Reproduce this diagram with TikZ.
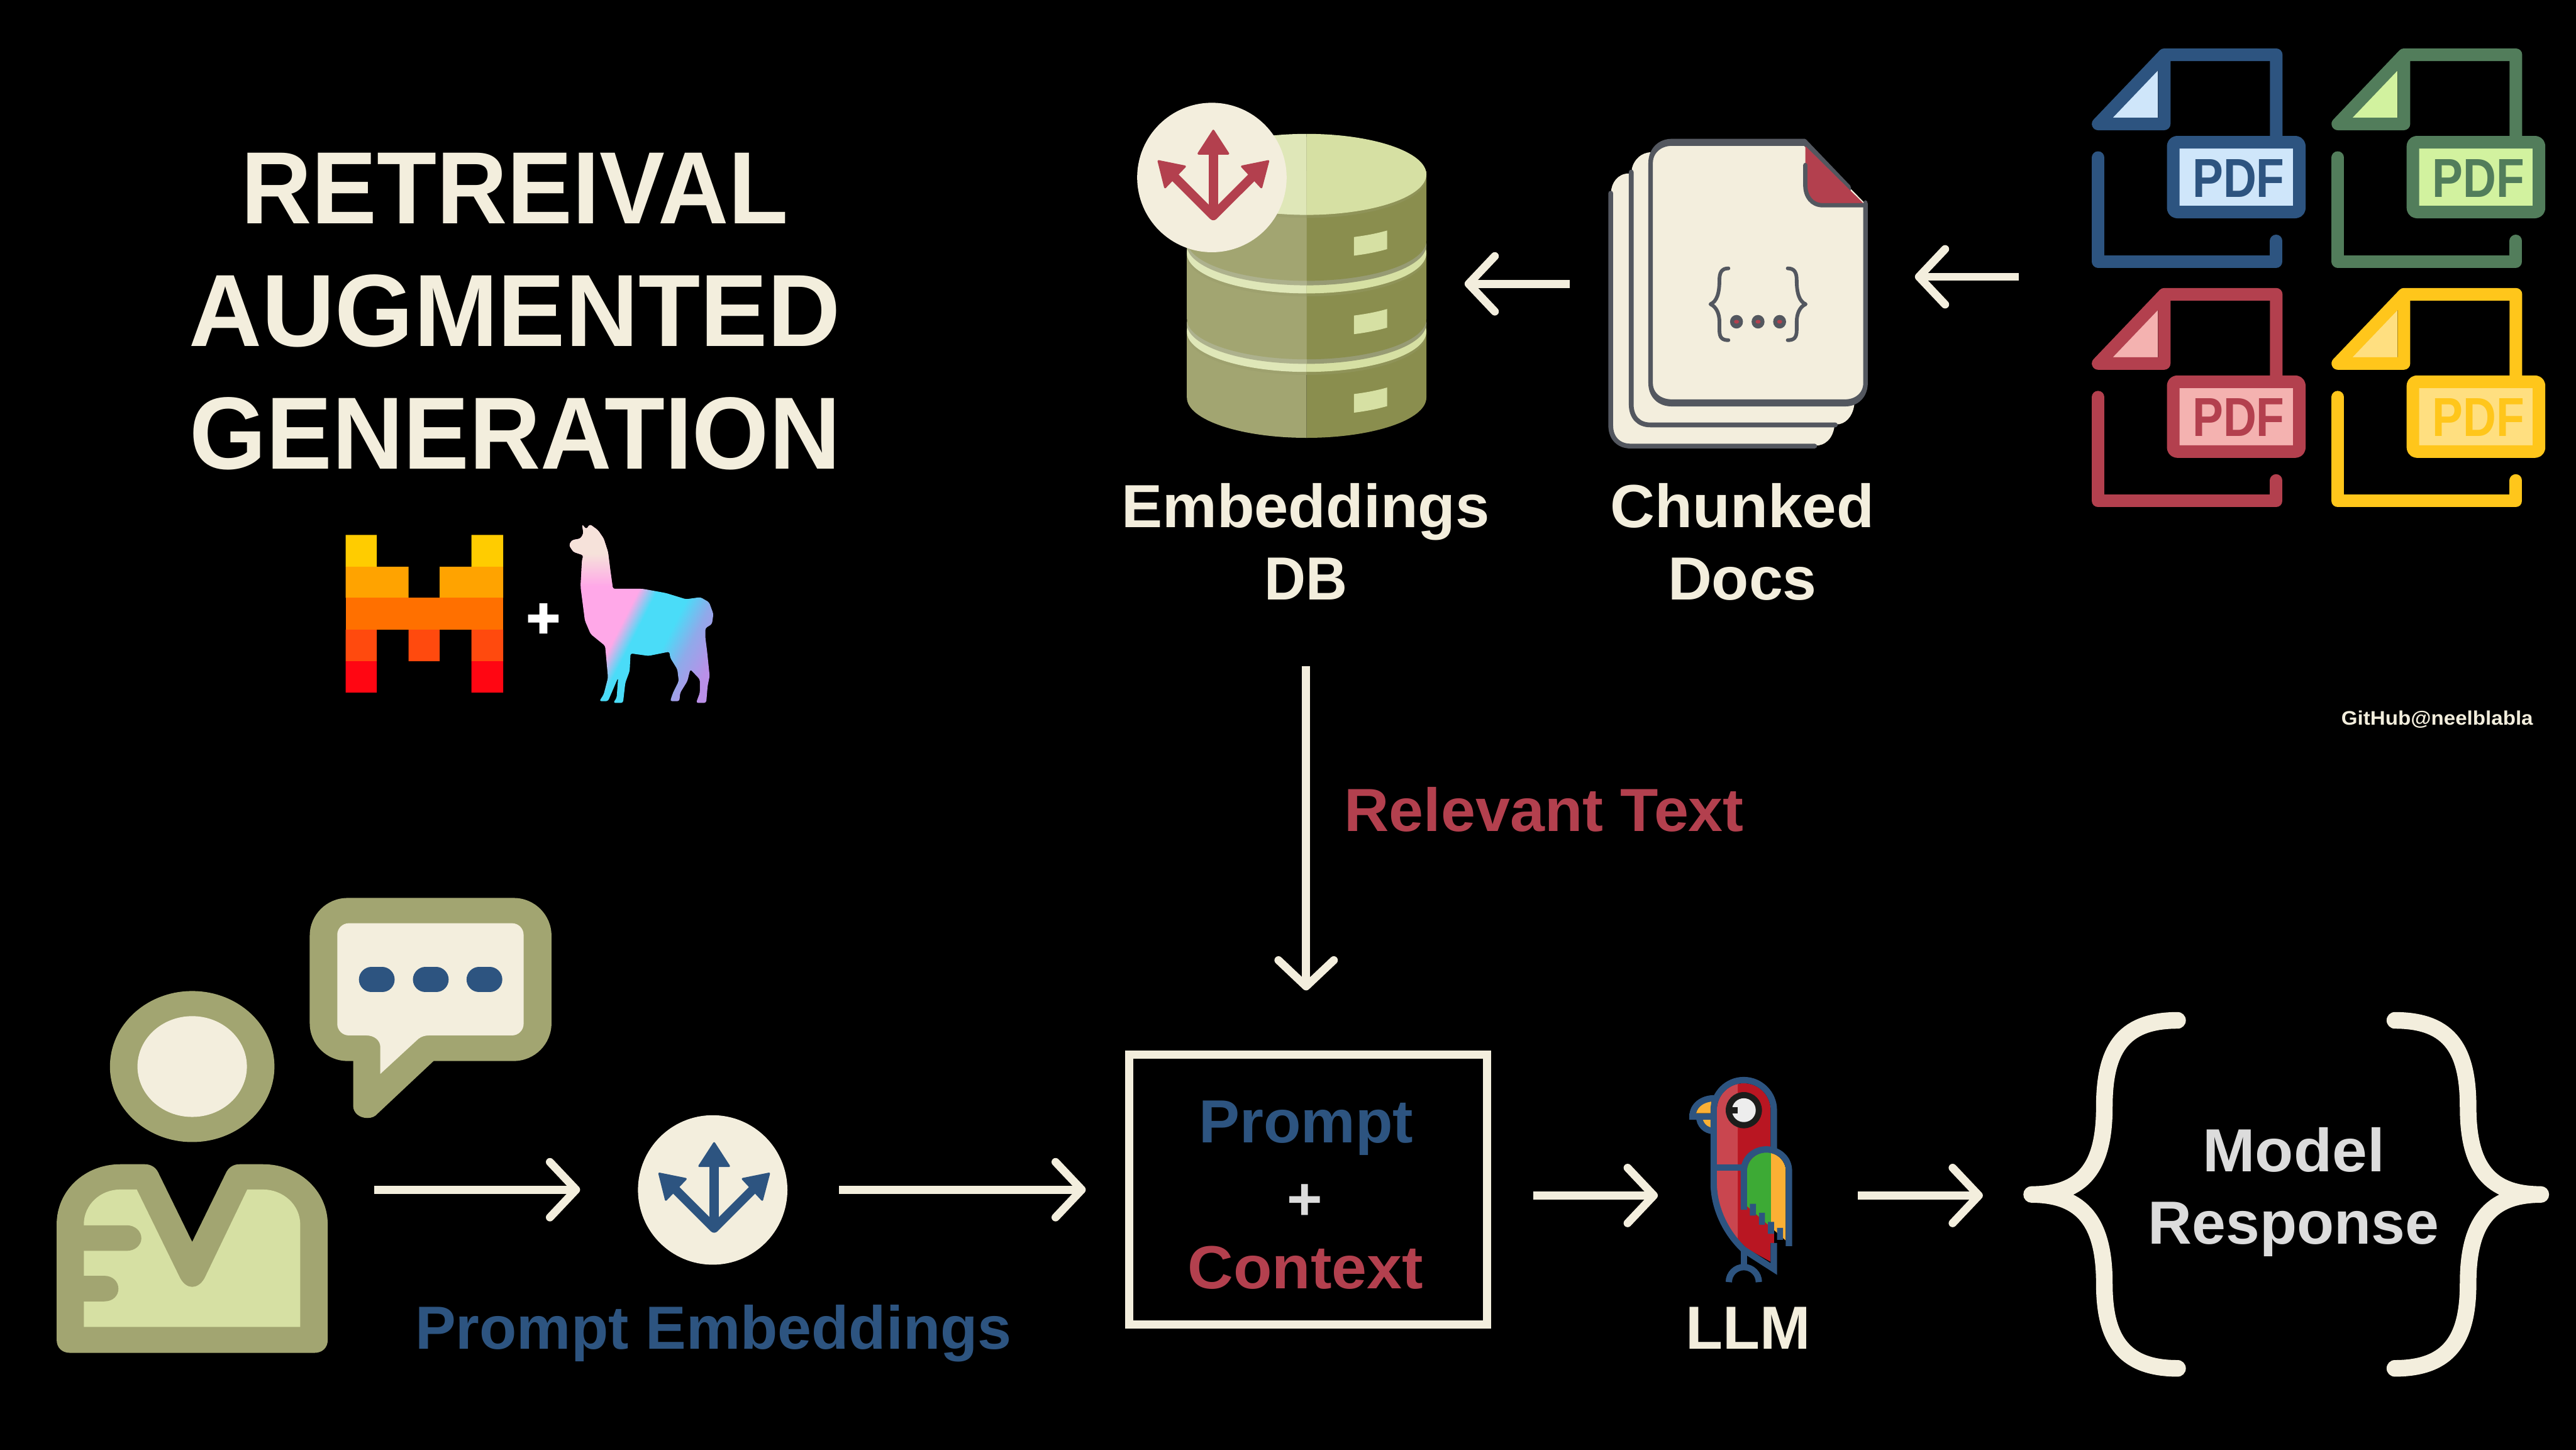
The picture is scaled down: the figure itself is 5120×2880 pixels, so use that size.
\documentclass[tikz,border=0pt]{standalone}
\usepackage{graphicx}
\usepackage{fontspec}
\setmainfont{Liberation Sans}
\usetikzlibrary{arrows.meta}
\definecolor{cream}{HTML}{F3EEDD}
\definecolor{greyt}{HTML}{DCDCDC}
\definecolor{ragblue}{HTML}{2D5480}
\definecolor{ragred}{HTML}{B3404E}
\definecolor{raggreen}{HTML}{527D5B}
\definecolor{ragyel}{HTML}{FFC61B}
\definecolor{olive}{HTML}{A2A571}
\definecolor{olived}{HTML}{8A8E4E}
\definecolor{limeL}{HTML}{DFE7B8}
\definecolor{lime}{HTML}{D6E0A3}
\definecolor{slate}{HTML}{53575F}
\definecolor{lp}{HTML}{FFA8E8}
\definecolor{lc}{HTML}{4ADCF8}
\definecolor{lb}{HTML}{8FAAEA}
\definecolor{lv}{HTML}{BA90E8}
\definecolor{lbeige}{HTML}{F6E2DA}
\definecolor{m1}{HTML}{FFCC00}
\definecolor{m2}{HTML}{FFA300}
\definecolor{m3}{HTML}{FF7000}
\definecolor{m4}{HTML}{FF4A0E}
\definecolor{m5}{HTML}{FF0612}
\definecolor{bandL}{HTML}{9EA16E}
\definecolor{bandR}{HTML}{8F9358}
\definecolor{shadL}{HTML}{ADB18D}
\definecolor{shadR}{HTML}{979B74}
\definecolor{pdfBl}{HTML}{CFE6FA}
\definecolor{pdfGl}{HTML}{D2F29F}
\definecolor{pdfRl}{HTML}{F4B2B0}
\definecolor{pdfYl}{HTML}{FFDF80}
\definecolor{pred}{HTML}{B91622}
\definecolor{predl}{HTML}{C9464F}
\definecolor{pgreen}{HTML}{3DAA35}
\definecolor{pyel}{HTML}{FBB034}
\definecolor{pdark}{HTML}{1D1D1B}
\definecolor{peye}{HTML}{EDEDED}
\pgfdeclarehorizontalshading{llamagrad}{100bp}{color(0bp)=(lp);color(46bp)=(lp);color(51bp)=(lc);color(60bp)=(lc);color(67bp)=(lb);color(75bp)=(lv);color(100bp)=(lv)}
\newcommand\fitw[2]{\setbox0=\hbox{#2}\pgfmathsetmacro\fitratio{#1/\the\wd0}\scalebox{\fitratio}[1]{\usebox0}}
% name, x, baseline, width, size, colour, text
\newcommand\lab[7]{\node[anchor=base,inner sep=0pt,text=#6] (#1) at (#2,#3) {\fitw{#4}{\fontsize{#5}{#5}\selectfont\bfseries #7}};}
\newcommand\threearrows[3]{%
  \begin{scope}[shift={(#1pt,-#2pt)},x=1pt,y=-1pt,color=#3,fill=#3,line join=round]
    \draw[line width=18pt] (-80,-7) -- (2.9,76) -- (86,-7);
    \draw[line width=18pt] (2.9,76) -- (2.9,-50);
    \filldraw[line width=4pt] (2.9,-93) -- (-26.6,-47.5) -- (32.4,-47.5) -- cycle;
    \filldraw[line width=4pt] (-106,-32.5) -- (-53.6,-21.9) -- (-93,19.5) -- cycle;
    \filldraw[line width=4pt] (112,-32.5) -- (59.8,-21.9) -- (98.3,19.5) -- cycle;
  \end{scope}}
\newcommand\halfell[4]{% cy ry left right
  \fill[#3] (2597,#1-#2) arc[start angle=-90,end angle=-270,x radius=238,y radius=#2] -- cycle;
  \fill[#4] (2597,#1-#2) arc[start angle=-90,end angle=90,x radius=238,y radius=#2] -- cycle;}
\newcommand\dbbody[2]{%
  \fill[olive] (2359,#1) -- (2359,#2) arc[start angle=180,end angle=90,x radius=238,y radius=80] -- (2597,#1) -- cycle;
  \fill[olived] (2835,#1) -- (2835,#2) arc[start angle=0,end angle=90,x radius=238,y radius=80] -- (2597,#1) -- cycle;}
% x, y offset of zoom origin, dark, light, name
\newcommand\pdficon[5]{%
  \begin{scope}[shift={(#1pt,-#2pt)},x=.6378pt,y=-.625pt,line width=25pt,line join=round,line cap=round]
    \fill[#4] (150,278) -- (296,278) -- (296,127) -- cycle;
    \draw[#3] (110,405) -- (110,735) -- (665,735) -- (665,670);
    \draw[#3] (665,340) -- (665,78) -- (316,78) -- (110,298) -- (316,298) -- (316,78);
    \draw[#3,fill=#4,rounded corners=8pt] (344,356) rectangle (737,578);
    \node[anchor=base,inner sep=0pt,text=#3] (#5) at (547.5,530) {\fitw{183}{\fontsize{109}{109}\selectfont\bfseries PDF}};
  \end{scope}}
\tikzset{flow/.style={draw=cream,line width=16pt,-{Straight Barb[length=52pt,width=110pt,round]}},
  brace/.style={draw=cream,line width=33pt,line cap=round,line join=round}}
\begin{document}
\begin{tikzpicture}[x=1pt,y=-1pt]
\useasboundingbox (0,0) rectangle (5120,2880);
\fill[black] (-20,-20) rectangle (5140,2900);

% ---- title
\lab{t1}{1023}{444}{1088}{204}{cream}{RETREIVAL}
\lab{t2}{1023.5}{688}{1295}{204}{cream}{AUGMENTED}
\lab{t3}{1023.5}{932}{1294}{204}{cream}{GENERATION}

% ---- mistral logo
\fill[m1] (687,1063) rectangle (749,1126) (937,1063) rectangle (1000,1126);
\fill[m2] (687,1126) rectangle (812,1188) (874,1126) rectangle (1000,1188);
\fill[m3] (687,1188) rectangle (1000,1251);
\fill[m4] (687,1251) rectangle (749,1314) (812,1251) rectangle (874,1314) (937,1251) rectangle (1000,1314);
\fill[m5] (687,1314) rectangle (749,1376) (937,1314) rectangle (1000,1376);
\fill[white] (1072,1199) rectangle (1088,1259) (1049.5,1221) rectangle (1110,1237);

% ---- llama
\begin{scope}[shift={(600pt,-1000pt)},x=.574pt,y=-.3333pt]
  \clip[rounded corners=4pt] (970,125) -- (985,155) -- (997,125) -- (1025,160) -- (1045,210) -- (1060,290) -- (1068,400) -- (1077,510)
   -- (1180,510) -- (1260,535) -- (1330,572) -- (1380,560) -- (1410,590) -- (1425,660) -- (1420,720) -- (1397,745) -- (1397,800)
   -- (1403,880) -- (1412,1030) -- (1405,1090) -- (1400,1190) -- (1365,1190) -- (1378,1130) -- (1378,1050) -- (1345,990) -- (1335,1060)
   -- (1310,1130) -- (1307,1180) -- (1275,1180) -- (1285,1130) -- (1305,1060) -- (1300,990) -- (1275,920) -- (1273,885) -- (1200,910)
   -- (1138,895) -- (1135,1000) -- (1120,1070) -- (1112,1190) -- (1078,1190) -- (1090,1160) -- (1095,1040) -- (1080,1100) -- (1060,1180)
   -- (1030,1180) -- (1045,1140) -- (1060,1040) -- (1050,850) -- (1000,780) -- (980,700) -- (965,500) -- (970,340) -- (975,310)
   -- (940,290) -- (925,250) -- (935,220) -- (965,210) -- (975,180) -- cycle;
  \shade[shading=llamagrad,shading angle=-27] (906,90) rectangle (1446,1230);
  \fill[lbeige] (906,90) rectangle (1090,300);
  \shade[top color=lbeige,bottom color=lp] (906,300) rectangle (1090,495);
\end{scope}

% ---- database
\dbbody{640}{790}
\halfell{665}{80}{bandL}{bandR}
\halfell{659}{80}{limeL}{lime}
\halfell{643}{80}{shadL}{shadR}
\dbbody{484}{634}
\halfell{509}{80}{bandL}{bandR}
\halfell{503}{80}{limeL}{lime}
\halfell{487}{80}{shadL}{shadR}
\dbbody{340}{478}
\halfell{352.5}{80.5}{bandL}{bandR}
\halfell{346.5}{80.5}{limeL}{lime}
\foreach \d in {0,156,312}{
  \fill[lime] (2691,471+\d) .. controls (2715,468+\d) and (2736,464+\d) .. (2757,458+\d) -- (2757,495+\d) .. controls (2736,501+\d) and (2715,505+\d) .. (2691,508+\d) -- cycle;}
\node[circle,fill=cream,draw=none,minimum size=297pt,inner sep=0pt] (dbcircle) at (2408.7,352.7) {};
\threearrows{2408.7}{352.7}{ragred}

% ---- chunked docs: back sheets
\begin{scope}[shift={(3180pt,-250pt)},x=.3571pt,y=-.4209pt]
  \fill[cream] (62,315) .. controls (62,270) and (100,225) .. (160,225) -- (1300,225) -- (1305,1420) .. controls (1295,1480) and (1250,1510) .. (1200,1510) -- (170,1510) .. controls (105,1510) and (62,1475) .. (62,1415) -- cycle;
  \draw[slate,line width=9.5pt,line cap=round] (60,318) -- (60,1415) .. controls (60,1475) and (105,1512) .. (170,1512) -- (1195,1512);
  \fill[cream] (178,200) .. controls (190,160) and (230,125) .. (285,125) -- (1190,125) -- (1415,320) -- (1415,1320) .. controls (1405,1375) and (1365,1410) .. (1315,1410) -- (280,1410) .. controls (215,1410) and (174,1375) .. (174,1315) -- cycle;
  \draw[slate,line width=9.5pt,line cap=round] (174,218) -- (174,1315) .. controls (174,1375) and (215,1412) .. (280,1412) -- (1310,1412);
  \fill[cream] (400,78) -- (1140,78) -- (1478,368) -- (1478,1215) .. controls (1478,1270) and (1430,1308) .. (1365,1308) -- (400,1308) .. controls (330,1308) and (282,1270) .. (282,1215) -- (282,175) .. controls (282,120) and (330,78) .. (400,78) -- cycle;
\end{scope}
% front sheet outline: top and bottom edges heavier than its sides
\begin{scope}[transform canvas={shift={(3180pt,-250pt)},xscale=.3571,yscale=.5556},x=1pt,y=-.7576pt,line width=25.2pt,line cap=round,line join=round]
  \draw[slate] (1385,295) -- (1140,78) -- (400,78) .. controls (330,78) and (282,120) .. (282,175) -- (282,1215) .. controls (282,1270) and (330,1308) .. (400,1308) -- (1365,1308) .. controls (1430,1308) and (1478,1270) .. (1478,1215) -- (1478,368);
\end{scope}
\begin{scope}[shift={(3180pt,-250pt)},x=.3571pt,y=-.4209pt,line cap=round,line join=round]
  \fill[ragred] (1143,95) -- (1465,365) -- (1240,375) .. controls (1180,375) and (1143,335) .. (1143,280) -- cycle;
  \draw[slate,line width=8.5pt] (1143,185) -- (1143,280) .. controls (1143,335) and (1180,375) .. (1240,375) -- (1478,375);
  \draw[slate,line width=7.3pt] (715,673) .. controls (675,673) and (665,695) .. (665,730) .. controls (665,790) and (650,830) .. (615,842) .. controls (650,855) and (665,890) .. (665,925) -- (665,965) .. controls (665,1000) and (680,1012) .. (715,1012);
  \draw[slate,line width=7.3pt] (1045,673) .. controls (1085,673) and (1095,695) .. (1095,730) .. controls (1095,790) and (1110,830) .. (1145,842) .. controls (1110,855) and (1095,890) .. (1095,925) -- (1095,965) .. controls (1095,1000) and (1080,1012) .. (1045,1012);
  \foreach \dx in {760,880,1000}{
    \fill[slate] (\dx,925) ellipse [x radius=36,y radius=32];
    \fill[ragred] (\dx,925) ellipse [x radius=14,y radius=9];}
\end{scope}

% ---- pdf icons
\pdficon{4100}{60}{ragblue}{pdfBl}{pdfa}
\pdficon{4576.4}{60}{raggreen}{pdfGl}{pdfb}
\pdficon{4100}{536}{ragred}{pdfRl}{pdfc}
\pdficon{4576.4}{536}{ragyel}{pdfYl}{pdfd}

% ---- labels
\lab{embA}{2595}{1048}{732}{121}{cream}{Embeddings}
\lab{embB}{2595.5}{1191.6}{165}{121}{cream}{DB}
\lab{chA}{3463}{1048}{525}{121}{cream}{Chunked}
\lab{chB}{3463}{1191.6}{296}{121}{cream}{Docs}
\lab{rel}{3069}{1652}{794}{121}{ragred}{Relevant Text}
\lab{pe}{1418}{2680}{1186}{121}{ragblue}{Prompt Embeddings}
\lab{llm}{3474}{2681}{248}{121}{cream}{LLM}
\lab{mr1}{4559}{2328}{362}{121}{greyt}{Model}
\lab{mr2}{4558.5}{2471.5}{578}{121}{greyt}{Response}
\lab{gh}{4844}{1440}{381}{39}{cream}{GitHub@neelblabla}

% ---- user
\begin{scope}[shift={(60pt,-1750pt)},x=.7015pt,y=-.6124pt]
  \fill[olive] (459,603) ellipse [x radius=233,y radius=245];
  \fill[cream] (459,603) ellipse [x radius=155,y radius=163.5];
  \fill[olive] (75,1115) .. controls (75,1005) and (155,920) .. (255,920) -- (325,920) .. controls (342,920) and (355,930) .. (362,945) -- (459,1172) -- (556,945) .. controls (563,930) and (576,920) .. (593,920) -- (660,920) .. controls (760,920) and (843,1005) .. (843,1115) -- (843,1490) .. controls (843,1515) and (828,1532) .. (805,1532) -- (113,1532) .. controls (90,1532) and (75,1515) .. (75,1490) -- cycle;
  \fill[lime] (152,1115) .. controls (152,1050) and (200,1002) .. (255,1002) -- (302,1002) -- (425,1290) .. controls (435,1310) and (447,1318) .. (459,1318) .. controls (471,1318) and (484,1310) .. (494,1290) -- (615,1002) -- (660,1002) .. controls (715,1002) and (765,1050) .. (765,1115) -- (765,1448) -- (152,1448) -- cycle;
  \fill[olive] (140,1118) -- (273,1118) .. controls (298,1118) and (315,1138) .. (315,1160) .. controls (315,1182) and (298,1201) .. (273,1201) -- (140,1201) -- cycle;
  \fill[olive] (140,1282) -- (210,1282) .. controls (235,1282) and (250,1302) .. (250,1324) .. controls (250,1346) and (235,1365) .. (210,1365) -- (140,1365) -- cycle;
  % speech bubble
  \fill[olive,rounded corners=75pt] (792,56) rectangle (1477,585);
  \fill[olive] (915,560) -- (915,730) .. controls (915,755) and (935,770) .. (955,770) .. controls (968,770) and (978,765) .. (985,755) -- (1143,585) -- (1143,560) -- cycle;
  \fill[cream,rounded corners=23pt] (870,138) rectangle (1398,502);
  \fill[cream] (952,490) -- (952,502) .. controls (975,502) and (992,518) .. (992,540) -- (992,627) -- (1100,513) .. controls (1108,506) and (1118,502) .. (1130,502) -- (1130,490) -- cycle;
  \foreach \a in {932,1085,1237}{
    \draw[ragblue,line width=50pt,line cap=round] (\a+35,321) -- (\a+65,321);}
\end{scope}

% ---- prompt embeddings circle
\node[circle,fill=cream,draw=none,minimum size=297pt,inner sep=0pt] (qcircle) at (1416.5,2364.5) {};
\threearrows{1416.5}{2364.5}{ragblue}

% ---- prompt + context box
\node[draw=cream,line width=16pt,minimum width=712pt,minimum height=535.5pt,inner sep=0pt] (pbox) at (2600,2363.75) {};
\lab{pa}{2596}{2271}{426}{121}{ragblue}{Prompt}
\node[anchor=base,inner sep=0pt,text=greyt,font=\fontsize{121}{121}\selectfont\bfseries] (pplus) at (2594,2424) {+};
\lab{pc}{2595}{2560}{468}{121}{ragred}{Context}

% ---- parrot
\begin{scope}[shift={(3300pt,-2100pt)},x=.3333pt,y=-.3333pt,line width=12.67pt]
  % beak
  \fill[pyel] (213,336) -- (305,336) -- (305,265) .. controls (255,268) and (225,295) .. (213,336) -- cycle;
  \fill[pyel] (250,373) -- (300,373) -- (300,422) .. controls (275,415) and (258,398) .. (250,373) -- cycle;
  \draw[ragblue] (192,373) -- (192,355) .. controls (192,290) and (250,247) .. (322,247);
  \draw[ragblue] (174,355) -- (318,355);
  \draw[ragblue] (232,355) .. controls (232,405) and (270,442) .. (318,442);
  % body
  \fill[pred] (337,318) arc[start angle=180,end angle=360,radius=160.5] -- (658,700) -- (678,1040) -- (678,1110) -- (658,1110) -- (658,1222) -- (520,1145) .. controls (420,1060) and (337,920) .. (337,760) -- cycle;
  \begin{scope}
    \clip (300,100) rectangle (462,1300);
    \fill[predl] (337,318) arc[start angle=180,end angle=360,radius=160.5] -- (658,700) -- (658,1222) -- (520,1145) .. controls (420,1060) and (337,920) .. (337,760) -- cycle;
  \end{scope}
  % outline
  \draw[ragblue,line join=miter,miter limit=10] (677,560) -- (677,318) arc[start angle=0,end angle=-180,radius=179.5] -- (318,750) .. controls (318,900) and (390,1050) .. (498,1150) -- (677,1265) -- (677,1110);
  \draw[ragblue] (318,660) -- (498,660);
  \draw[ragblue] (498,1150) -- (498,1240);
  \draw[ragblue] (408.5,1343) arc[start angle=180,end angle=360,radius=89.5];
  % wing
  \begin{scope}
    \clip (480,500) rectangle (660,1200);
    \fill[pgreen] (517,890) -- (517,680) .. controls (517,620) and (570,570) .. (632,570) .. controls (695,570) and (748,620) .. (748,680) -- (748,1095) -- cycle;
  \end{scope}
  \begin{scope}
    \clip (660,500) rectangle (800,1200);
    \fill[pyel] (517,890) -- (517,680) .. controls (517,620) and (570,570) .. (632,570) .. controls (695,570) and (748,620) .. (748,680) -- (748,1095) -- cycle;
  \end{scope}
  \draw[ragblue] (498,912) -- (498,680) .. controls (498,605) and (560,552) .. (632,552) .. controls (705,552) and (767,605) .. (767,680) -- (767,1128);
  \fill[ragblue] (534,876) rectangle (570,946) (588,930) rectangle (624,1001) (642,984) rectangle (678,1055) (696,1020) rectangle (732,1091);
  % eye
  \fill[pdark] (498,318) circle [radius=108];
  \fill[peye] (498,318) circle [radius=71];
  \fill[pdark] (420,300) rectangle (462,337);
\end{scope}

% ---- response braces
\draw[brace] (4328,2027.5) .. controls (4215,2027.5) and (4182.5,2090) .. (4182.5,2200) .. controls (4182.5,2320) and (4140,2373.5) .. (4038,2373.5) .. controls (4140,2373.5) and (4182.5,2430) .. (4182.5,2550) .. controls (4182.5,2655) and (4215,2719) .. (4328,2719);
\draw[brace] (4760,2027.5) .. controls (4873,2027.5) and (4905.5,2090) .. (4905.5,2200) .. controls (4905.5,2320) and (4948,2373.5) .. (5050,2373.5) .. controls (4948,2373.5) and (4905.5,2430) .. (4905.5,2550) .. controls (4905.5,2655) and (4873,2719) .. (4760,2719);

% ---- connectors
\coordinate (pdfout) at (4012,550); \coordinate (docsin) at (3806,550);
\coordinate (docsout) at (3120,564); \coordinate (dbin) at (2911,564);
\coordinate (dbout) at (2596,1324); \coordinate (boxin) at (2596,1968);
\coordinate (userout) at (744,2364); \coordinate (qin) at (1153,2364);
\coordinate (qout) at (1668,2364); \coordinate (boxleft) at (2158,2364);
\coordinate (boxout) at (3047,2375.5); \coordinate (llmin) at (3295,2375.5);
\coordinate (llmout) at (3693,2375.5); \coordinate (respin) at (3941,2375.5);
\draw[flow] (pdfout) -- (docsin);
\draw[flow] (docsout) -- (dbin);
\draw[flow] (dbout) -- (boxin);
\draw[flow] (userout) -- (qin);
\draw[flow] (qout) -- (boxleft);
\draw[flow] (boxout) -- (llmin);
\draw[flow] (llmout) -- (respin);
\end{tikzpicture}
\end{document}
